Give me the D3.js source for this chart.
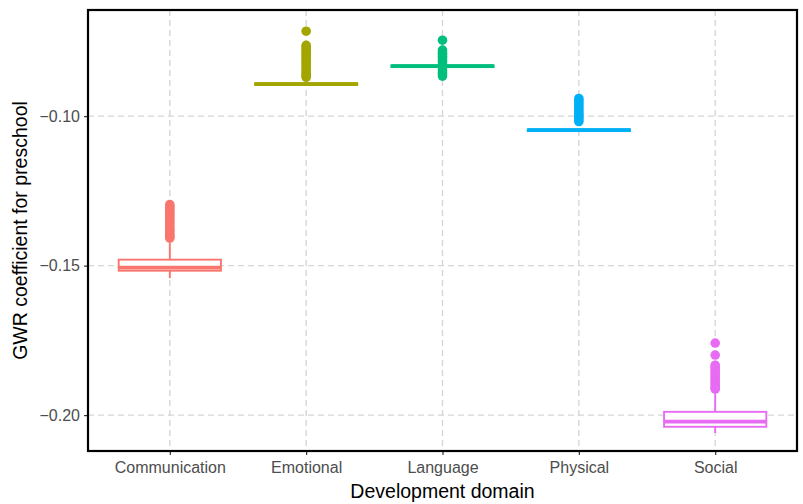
<!DOCTYPE html>
<html>
<head>
<meta charset="utf-8">
<script src="https://cdn.jsdelivr.net/npm/d3@7"></script>
<style>
  body { margin: 0; background: #fff; }
  text { font-family: "Liberation Sans", Arial, sans-serif; }
</style>
</head>
<body>
<div id="chart"></div>
<script>
// data
var domains = ["Communication", "Emotional", "Language", "Physical", "Social"];
var colors = ["#F8766D", "#A3A500", "#00BF7D", "#00B0F6", "#E76BF3"];
var q1 = [-0.1517, -0.0896, -0.0836, -0.1050, -0.2039];
var median = [-0.1507, -0.0893, -0.0833, -0.1047, -0.2022];
var q3 = [-0.1480, -0.0890, -0.0830, -0.1044, -0.1989];
var whiskerLow = [-0.1542, -0.0898, -0.0838, -0.1052, -0.2060];
var whiskerHigh = [-0.1425, -0.0888, -0.0828, -0.1042, -0.1930];
var outliers = [
  [-0.1296, -0.1302, -0.1308, -0.1315, -0.1322, -0.1329, -0.1336, -0.1343, -0.1350, -0.1357,
   -0.1364, -0.1371, -0.1378, -0.1385, -0.1392, -0.1399, -0.1404, -0.1408],
  [-0.0716, -0.0763, -0.0769, -0.0776, -0.0783, -0.0790, -0.0797, -0.0804, -0.0811, -0.0818,
   -0.0825, -0.0832, -0.0839, -0.0846, -0.0853, -0.0860, -0.0866, -0.0870],
  [-0.0746, -0.0779, -0.0786, -0.0793, -0.0800, -0.0807, -0.0814, -0.0821, -0.0845, -0.0852,
   -0.0859, -0.0866],
  [-0.0941, -0.0948, -0.0955, -0.0962, -0.0969, -0.0976, -0.0983, -0.0990, -0.0997, -0.1004,
   -0.1011, -0.1018],
  [-0.1759, -0.1799, -0.1833, -0.1840, -0.1847, -0.1854, -0.1861, -0.1868, -0.1875, -0.1882,
   -0.1889, -0.1896, -0.1903, -0.1910, -0.1913]
];
var yTicks = [-0.20, -0.15, -0.10];

var margin = {top: 10, right: 6, bottom: 53, left: 88},
width = 803 - margin.left - margin.right,
height = 504 - margin.top - margin.bottom;

var svg = d3.select("#chart")
  .append("svg")
  .attr("width", 803)
  .attr("height", 504)
  .append("g")
  .attr("transform", "translate(" + margin.left + "," + margin.top + ")");

var x = d3.scalePoint()
  .domain(domains)
  .range([0, width])
  .padding(0.6);
var step = x.step();

var y = d3.scaleLinear()
  .domain([-0.2120, -0.0645])
  .range([height, 0]);

var fmt = function(d) { return d3.format(".2f")(d).replace("-", "\u2212"); };

// grid
svg.selectAll(".hgrid")
  .data(yTicks)
  .enter().append("line")
  .attr("x1", 0).attr("x2", width)
  .attr("y1", function(d) { return y(d); })
  .attr("y2", function(d) { return y(d); })
  .attr("stroke", "#d6d6d6")
  .attr("stroke-width", 1.4)
  .attr("stroke-dasharray", "6,4");

svg.selectAll(".vgrid")
  .data(domains)
  .enter().append("line")
  .attr("y1", 0).attr("y2", height)
  .attr("x1", function(d) { return x(d); })
  .attr("x2", function(d) { return x(d); })
  .attr("stroke", "#d6d6d6")
  .attr("stroke-width", 1.4)
  .attr("stroke-dasharray", "6,4");

// boxes
var boxW = step * 0.75;
domains.forEach(function(dom, i) {
  var g = svg.append("g");
  var cx = x(dom);
  g.selectAll("circle")
    .data(outliers[i])
    .enter().append("circle")
    .attr("cx", cx)
    .attr("cy", function(d) { return y(d); })
    .attr("r", 4.8)
    .style("fill", colors[i]);
  g.append("line")
    .attr("x1", cx).attr("x2", cx)
    .attr("y1", y(q3[i])).attr("y2", y(whiskerHigh[i]))
    .attr("stroke", colors[i]).attr("stroke-width", 1.9);
  g.append("line")
    .attr("x1", cx).attr("x2", cx)
    .attr("y1", y(q1[i])).attr("y2", y(whiskerLow[i]))
    .attr("stroke", colors[i]).attr("stroke-width", 1.9);
  g.append("rect")
    .attr("x", cx - boxW / 2)
    .attr("width", boxW)
    .attr("y", y(q3[i]))
    .attr("height", y(q1[i]) - y(q3[i]))
    .attr("fill", "white")
    .attr("stroke", colors[i])
    .attr("stroke-width", 1.9);
  g.append("line")
    .attr("x1", cx - boxW / 2).attr("x2", cx + boxW / 2)
    .attr("y1", y(median[i])).attr("y2", y(median[i]))
    .attr("stroke", colors[i]).attr("stroke-width", 3.8);
});

// axes
var xAxis = svg.append("g")
  .attr("transform", "translate(0," + height + ")")
  .call(d3.axisBottom(x).tickSize(4).tickPadding(7));
xAxis.selectAll("text")
  .style("font-size", "16px")
  .attr("fill", "#4d4d4d");

var yAxis = svg.append("g")
  .call(d3.axisLeft(y).tickValues(yTicks).tickFormat(fmt).tickSize(4).tickPadding(4));
yAxis.selectAll("text")
  .style("font-size", "16px")
  .attr("fill", "#4d4d4d");

svg.selectAll(".tick line").attr("stroke", "#333333").attr("stroke-width", 1.2);
svg.selectAll(".domain").remove();

// panel border
svg.append("rect")
  .attr("x", 0).attr("y", 0)
  .attr("width", width).attr("height", height)
  .attr("fill", "none")
  .attr("stroke", "black")
  .attr("stroke-width", 2.2);

// axis titles
svg.append("text")
  .attr("text-anchor", "middle")
  .attr("x", width / 2)
  .attr("y", height + 47)
  .style("font-size", "19.5px")
  .style("fill", "black")
  .text("Development domain");

svg.append("text")
  .attr("text-anchor", "middle")
  .attr("transform", "rotate(-90)")
  .attr("x", -height / 2)
  .attr("y", -61)
  .style("font-size", "19.5px")
  .style("fill", "black")
  .text("GWR coefficient for preschool");
</script>
</body>
</html>
